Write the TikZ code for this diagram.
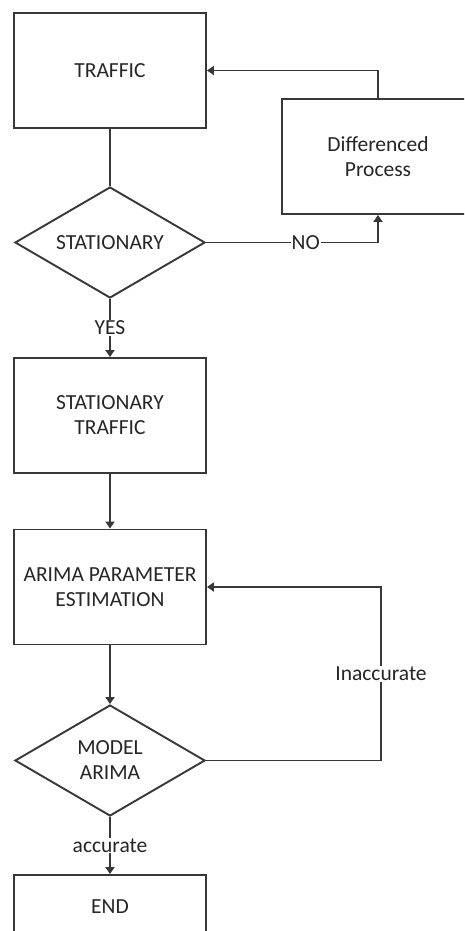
\documentclass[tikz,border=0pt]{standalone}
\usepackage{fontspec}
\setmainfont{Carlito}
\usetikzlibrary{shapes.geometric,arrows.meta}
\begin{document}
\begin{tikzpicture}[x=1pt,y=-1pt,
  lc/.style={draw=black!78,line width=1.9pt},
  txt/.style={text=black!85,font=\fontsize{21.5}{25}\selectfont},
  box/.style={lc,txt,rectangle,minimum width=192pt,minimum height=115pt,inner sep=0pt,align=center},
  dec/.style={lc,txt,diamond,minimum width=190pt,minimum height=111pt,inner sep=0pt,aspect=1.7,align=center},
  con/.style={lc,-{Triangle[width=9pt,length=7pt]}},
  lab/.style={txt,fill=white,inner sep=1pt}
]
\useasboundingbox (0,0) rectangle (464,931);
\clip (0,0) rectangle (464,931);
\fill[white] (0,0) rectangle (464,931);

\node[box] (traffic) at (110,70.5) {TRAFFIC};
\node[box] (diff) at (378,156.5) {Differenced\\Process};
\node[dec] (stat) at (110,242.5) {STATIONARY};
\node[box] (stt) at (110,415.5) {STATIONARY\\TRAFFIC};
\node[box] (arima) at (110,587) {ARIMA PARAMETER\\ESTIMATION};
\node[dec] (model) at (110,760.5) {MODEL\\ARIMA};
\node[box,minimum height=64pt] (end) at (110,907) {END};
\coordinate (ia) at (381,587);

\draw[lc] (traffic) -- (stat);
\draw[con] (stat.east) -| node[lab,pos=0.29]{NO} (diff.south);
\draw[con] (diff.north) |- (traffic.east);
\draw[con] (stat.south) -- node[lab]{YES} (stt.north);
\draw[con] (stt) -- (arima);
\draw[con] (arima) -- (model);
\draw[con] (model.south) -- node[lab]{accurate} (end.north);
\draw[con] (model.east) -| node[lab,pos=0.75]{Inaccurate} (ia) -- (arima.east);
\end{tikzpicture}
\end{document}
